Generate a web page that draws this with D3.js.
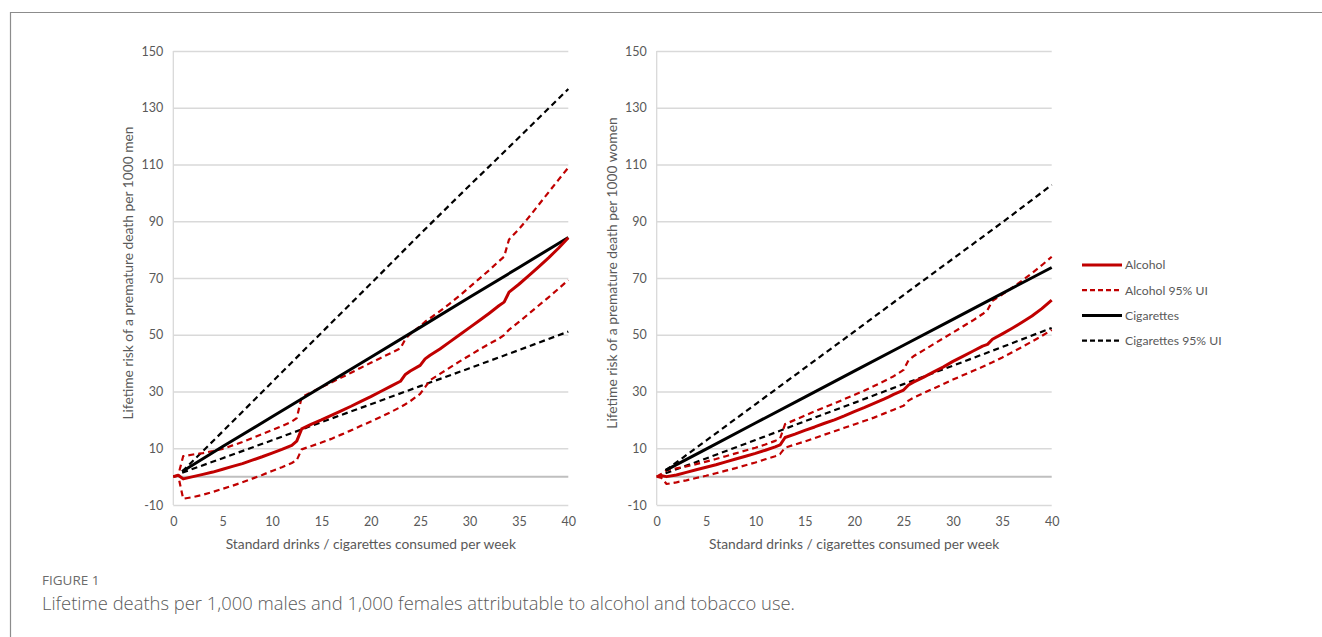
<!DOCTYPE html>
<html>
<head>
<meta charset="utf-8">
<script src="https://cdn.jsdelivr.net/npm/d3@7"></script>
<style>
  body { margin: 0; background: #fff; }
  svg { display: block; font-family: "Lato", "Liberation Sans", sans-serif; }
</style>
</head>
<body>
<div id="chart"></div>
<script>
// x positions (drinks per week) for the alcohol curves
const alcX = [0, 0.5, 1, 2, 3, 4, 5, 6, 7, 8, 9, 10, 11, 12, 12.5, 13, 14, 15, 16, 17, 18, 19, 20,
  21, 22, 23, 23.5, 24, 25, 25.5, 26, 27, 28, 29, 30, 31, 32, 33, 33.5, 34, 35, 36, 37, 38, 39, 40];

// men - alcohol
const menAlc = [0, 0.5, -0.8, 0, 0.8, 1.6, 2.6, 3.6, 4.6, 5.8, 7, 8.3, 9.6, 11, 12.5, 16.8, 18.5, 20, 21.6, 23.2, 24.8, 26.5, 28.2,
  30, 31.8, 33.6, 36, 37.2, 39.2, 41.5, 42.8, 45, 47.5, 50, 52.5, 55, 57.6, 60.3, 61.5, 65, 67.8, 70.8, 73.9, 77.1, 80.5, 84.2];
const menAlcHi = [0, 0.5, 7.2, 7.8, 8.3, 9, 9.8, 11, 12.2, 13.6, 15, 16.4, 17.8, 19.4, 20.6, 28, 29.8, 31.5, 33.2, 34.9, 36.6, 38.4, 40.1,
  41.8, 43.5, 45.2, 48.5, 50.3, 53, 54.6, 55.8, 58.3, 61, 63.8, 66.8, 69.8, 72.8, 76, 77.5, 83.6, 87.2, 91.4, 95.8, 100.2, 104.6, 108.9];
const menAlcLo = [0, 0.3, -7.8, -7.2, -6.4, -5.4, -4.3, -3.2, -2, -0.7, 0.6, 2, 3.3, 4.8, 5.8, 9.6, 10.8, 12, 13.3, 14.8, 16.3, 17.9, 19.4,
  21, 22.7, 24.5, 25.5, 26.6, 29.2, 31.5, 34, 36.2, 38.4, 40.6, 42.7, 44.8, 46.8, 48.7, 49.9, 51.8, 54.5, 57.4, 60.3, 63.2, 66.2, 69.3];

// women - alcohol
const womenAlc = [0, 0.3, 0, 0.6, 1.5, 2.4, 3.3, 4.2, 5.2, 6.2, 7.2, 8.2, 9.3, 10.5, 11.2, 13.8, 15, 16.3, 17.5, 18.8, 20, 21.4, 22.9,
  24.3, 25.8, 27.3, 28.1, 29, 30.5, 32.3, 33.3, 35, 36.8, 38.6, 40.6, 42.4, 44.2, 46, 46.6, 48.4, 50.3, 52.3, 54.4, 56.6, 59.2, 62.2];
const womenAlcHi = [0, 1, 2.2, 2.9, 3.6, 4.4, 5.3, 6.2, 7.2, 8.2, 9.2, 10.2, 11.3, 12.6, 13.5, 18.5, 20, 21.5, 23, 24.4, 25.8, 27.3, 28.8,
  30.3, 31.9, 33.6, 34.5, 35.4, 37.6, 41, 42.4, 44.5, 46.6, 48.7, 50.8, 52.9, 55, 57.3, 58.7, 62, 64.2, 66.6, 69.1, 71.7, 74.5, 77.5];
const womenAlcLo = [0, -0.5, -2.6, -2, -1.3, -0.5, 0.3, 1.2, 2.1, 3, 4, 5, 6.1, 7.2, 8, 10.2, 11.3, 12.4, 13.6, 14.8, 16, 17.2, 18.4,
  19.6, 20.8, 22.2, 22.9, 23.6, 25, 26.8, 27.8, 29.4, 31, 32.6, 34.2, 35.7, 37.2, 38.7, 39.5, 40.3, 42, 43.8, 45.7, 47.6, 49.6, 51.7];

// x positions (cigarettes per week) for the tobacco curves
const cigX = [0.9, 5, 10, 15, 20, 25, 30, 35, 40];
const menCig = [1.8, 10.6, 21.1, 31.6, 42.1, 52.6, 63.2, 73.7, 84.3];
const menCigHi = [1.8, 15.9, 33.3, 50.7, 68, 85.5, 102.6, 119.5, 136.6];
const menCigLo = [1.4, 6.5, 12.8, 19.2, 25.5, 31.9, 38.2, 44.6, 51.1];
const womenCig = [2.2, 9.7, 18.9, 28, 37.2, 46.3, 55.4, 64.6, 73.7];
const womenCigHi = [2.2, 12.7, 25.5, 38.3, 51.1, 64, 76.8, 89.6, 102.8];
const womenCigLo = [1.2, 6.4, 12.9, 19.5, 26, 32.6, 39.1, 45.7, 52.4];

const yTicks = [-10, 10, 30, 50, 70, 90, 110, 130, 150];
const xTicks = [0, 5, 10, 15, 20, 25, 30, 35, 40];

const legendItems = [
  { label: "Alcohol", color: "#c00000", dash: null },
  { label: "Alcohol 95% UI", color: "#c00000", dash: "5,3" },
  { label: "Cigarettes", color: "#000000", dash: null },
  { label: "Cigarettes 95% UI", color: "#000000", dash: "5,3" }
];

const width = 1322;
const height = 637;
const red = "#c00000";

const svg = d3.select("#chart").append("svg")
    .attr("width", width)
    .attr("height", height);

// figure frame (top and left rule)
svg.append("line")
    .attr("x1", 10).attr("x2", width).attr("y1", 12.5).attr("y2", 12.5)
    .attr("stroke", "#8c8c8c").attr("stroke-width", 1.2);
svg.append("line")
    .attr("x1", 10.5).attr("x2", 10.5).attr("y1", 12).attr("y2", height)
    .attr("stroke", "#8c8c8c").attr("stroke-width", 1.2);

function panel(left, right, yTitle, series) {
  const x = d3.scaleLinear().domain([0, 40]).range([left, right]);
  const y = d3.scaleLinear().domain([-10, 150]).range([505, 51]);
  const g = svg.append("g");

  // gridlines + y labels
  g.append("g")
      .attr("transform", `translate(${left},0)`)
      .call(d3.axisLeft(y).tickValues(yTicks).tickSize(-(right - left)).tickPadding(10)
          .tickFormat(d => String(d)))
      .call(a => a.select(".domain").remove())
      .call(a => a.selectAll(".tick line").attr("stroke", "#d9d9d9").attr("stroke-width", 1.3))
      .call(a => a.selectAll(".tick text")
          .attr("fill", "#595959").attr("font-size", 12.5).attr("font-family", "Lato, sans-serif"));

  // vertical axis line
  g.append("line")
      .attr("x1", left).attr("x2", left).attr("y1", y(150)).attr("y2", y(-10))
      .attr("stroke", "#d9d9d9").attr("stroke-width", 1.3);

  // zero line
  g.append("line")
      .attr("x1", left).attr("x2", right).attr("y1", y(0)).attr("y2", y(0))
      .attr("stroke", "#bfbfbf").attr("stroke-width", 2);

  // x labels
  g.append("g")
      .attr("transform", `translate(0,${y(-10)})`)
      .call(d3.axisBottom(x).tickValues(xTicks).tickSize(0).tickPadding(12))
      .call(a => a.select(".domain").remove())
      .call(a => a.selectAll(".tick text")
          .attr("fill", "#595959").attr("font-size", 12.5).attr("font-family", "Lato, sans-serif"));

  g.append("text")
      .attr("x", (left + right) / 2).attr("y", 549)
      .attr("text-anchor", "middle")
      .attr("fill", "#595959").attr("font-size", 13.8)
      .text("Standard drinks / cigarettes consumed per week");

  g.append("text")
      .attr("transform", `translate(${left - 40},${(y(150) + y(-10)) / 2 - 5}) rotate(-90)`)
      .attr("text-anchor", "middle")
      .attr("fill", "#595959").attr("font-size", 13.8)
      .text(yTitle);

  const line = d3.line().x(d => x(d[0])).y(d => y(d[1]));

  series.forEach(s => {
    g.append("path")
        .datum(d3.zip(s.xs, s.ys))
        .attr("fill", "none")
        .attr("stroke", s.color)
        .attr("stroke-width", s.dash ? 2.2 : 3)
        .attr("stroke-dasharray", s.dash)
        .attr("stroke-linejoin", "round")
        .attr("d", line);
  });
}

panel(173.3, 568.3, "Lifetime risk of a premature death per 1000 men", [
  { xs: cigX, ys: menCigHi, color: "#000", dash: "6,4" },
  { xs: cigX, ys: menCigLo, color: "#000", dash: "6,4" },
  { xs: alcX, ys: menAlcHi, color: red, dash: "6,4" },
  { xs: alcX, ys: menAlcLo, color: red, dash: "6,4" },
  { xs: cigX, ys: menCig, color: "#000", dash: null },
  { xs: alcX, ys: menAlc, color: red, dash: null }
]);

panel(656.7, 1051.7, "Lifetime risk of a premature death per 1000 women", [
  { xs: cigX, ys: womenCigHi, color: "#000", dash: "6,4" },
  { xs: cigX, ys: womenCigLo, color: "#000", dash: "6,4" },
  { xs: alcX, ys: womenAlcHi, color: red, dash: "6,4" },
  { xs: alcX, ys: womenAlcLo, color: red, dash: "6,4" },
  { xs: cigX, ys: womenCig, color: "#000", dash: null },
  { xs: alcX, ys: womenAlc, color: red, dash: null }
]);

// legend
const legend = svg.append("g").attr("transform", "translate(1082,265)");
legendItems.forEach((d, i) => {
  const row = legend.append("g").attr("transform", `translate(0,${i * 25.2})`);
  row.append("line")
      .attr("x1", 0).attr("x2", 40).attr("y1", 0).attr("y2", 0)
      .attr("stroke", d.color)
      .attr("stroke-width", d.dash ? 2.2 : 3)
      .attr("stroke-dasharray", d.dash);
  row.append("text")
      .attr("x", 43).attr("y", 4.3)
      .attr("fill", "#595959").attr("font-size", 12.2)
      .text(d.label);
});

// caption
svg.append("text")
    .attr("x", 42).attr("y", 584.5)
    .attr("fill", "#6b6b6b").attr("font-size", 13.5)
    .attr("font-family", "'Open Sans', sans-serif")
    .text("FIGURE 1");
svg.append("text")
    .attr("x", 42).attr("y", 609.5)
    .attr("fill", "#5a5a5a").attr("font-size", 18.4)
    .attr("font-family", "'Open Sans', sans-serif")
    .attr("font-weight", 300)
    .text("Lifetime deaths per 1,000 males and 1,000 females attributable to alcohol and tobacco use.");
</script>
</body>
</html>
